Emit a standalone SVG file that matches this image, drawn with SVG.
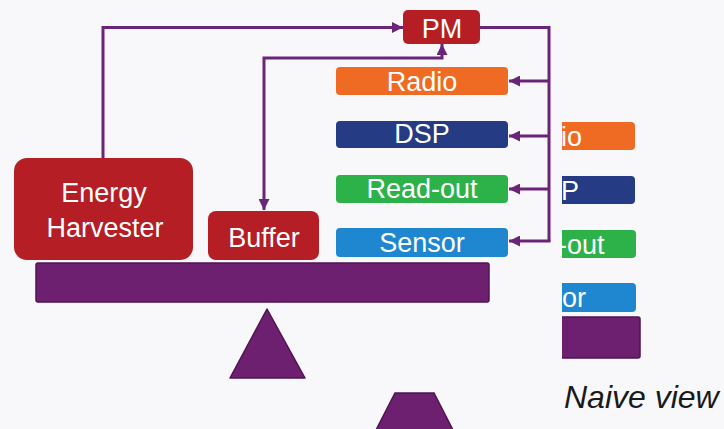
<svg xmlns="http://www.w3.org/2000/svg" width="724" height="429" viewBox="0 0 724 429">
  <defs>
    <marker id="arr" viewBox="0 0 10 10" refX="10" refY="5" markerWidth="11" markerHeight="11" markerUnits="userSpaceOnUse" orient="auto-start-reverse">
      <path d="M0,0 L10,5 L0,10 Z" fill="#6a2479"/>
    </marker>
    <clipPath id="clipR">
      <rect x="562" y="0" width="162" height="429"/>
    </clipPath>
  </defs>
  <style>
    .lbl { font-family: "Liberation Sans", Arial, sans-serif; font-size: 27px; fill: #ffffff; text-anchor: middle; }
    .lblL { font-family: "Liberation Sans", Arial, sans-serif; font-size: 27px; fill: #ffffff; }
    .red { fill: #b41e24; }
    .orange { fill: #ef6a23; }
    .navy { fill: #253b84; }
    .green { fill: #2db24a; }
    .sky { fill: #1f87cf; }
    .beam { fill: #6d1f70; stroke: #4f1452; stroke-width: 1.5; }
    .conn { fill: none; stroke: #6a2479; stroke-width: 3; }
  </style>
  <rect width="724" height="429" fill="#f8f8fa"/>

  <g id="beam">
    <rect class="beam" x="36" y="263" width="453" height="39" rx="2"/>
  </g>
  <g id="fulcrum">
    <polygon class="beam" points="267,309 305,378 230,378" stroke-linejoin="round"/>
  </g>

  <g id="energy-harvester">
    <rect class="red" x="14" y="158" width="179" height="102" rx="13"/>
    <text class="lbl" x="104" y="202">Energy</text>
    <text class="lbl" x="105" y="237">Harvester</text>
  </g>
  <g id="buffer">
    <rect class="red" x="208" y="211" width="111" height="49" rx="8"/>
    <text class="lbl" x="264" y="247">Buffer</text>
  </g>
  <g id="pm">
    <rect class="red" x="403" y="10" width="77" height="34" rx="5"/>
    <text class="lbl" x="442" y="38">PM</text>
  </g>
  <g id="radio">
    <rect class="orange" x="336" y="67" width="172" height="28" rx="4"/>
    <text class="lbl" x="422" y="91">Radio</text>
  </g>
  <g id="dsp">
    <rect class="navy" x="336" y="121" width="172" height="27" rx="4"/>
    <text class="lbl" x="422" y="143">DSP</text>
  </g>
  <g id="readout">
    <rect class="green" x="336" y="175" width="172" height="28" rx="4"/>
    <text class="lbl" x="422" y="198">Read-out</text>
  </g>
  <g id="sensor">
    <rect class="sky" x="336" y="228" width="172" height="29" rx="4"/>
    <text class="lbl" x="422" y="252">Sensor</text>
  </g>

  <g id="connectors">
    <path class="conn" d="M103,158 V27.5 H403" marker-end="url(#arr)"/>
    <path class="conn" d="M442,44 V58 H264 V210" marker-start="url(#arr)" marker-end="url(#arr)"/>
    <path class="conn" d="M480,27.5 H549 V241"/>
    <path class="conn" d="M549,81 H509" marker-end="url(#arr)"/>
    <path class="conn" d="M549,136 H509" marker-end="url(#arr)"/>
    <path class="conn" d="M549,189 H509" marker-end="url(#arr)"/>
    <path class="conn" d="M550.5,241 H509" marker-end="url(#arr)"/>
  </g>

  <g id="naive-view" clip-path="url(#clipR)">
    <rect class="orange" x="550" y="122" width="85" height="28" rx="4"/>
    <text class="lblL" x="561" y="146">io</text>
    <rect class="navy" x="550" y="176" width="85" height="28" rx="4"/>
    <text class="lblL" x="561" y="200">P</text>
    <rect class="green" x="550" y="230" width="86" height="28" rx="4"/>
    <text class="lblL" x="558" y="254">-out</text>
    <rect class="sky" x="550" y="283" width="86" height="29" rx="4"/>
    <text class="lblL" x="562" y="307">or</text>
    <rect class="beam" x="550" y="317" width="90" height="41" rx="2"/>
  </g>
  <g id="fulcrum-2">
    <polygon class="beam" points="395,393 434,393 454,432 375,432"/>
  </g>
  <text x="564" y="408" font-family="Liberation Sans, Arial, sans-serif" font-size="32" font-style="italic" fill="#1a1a1a">Naive view</text>
</svg>
